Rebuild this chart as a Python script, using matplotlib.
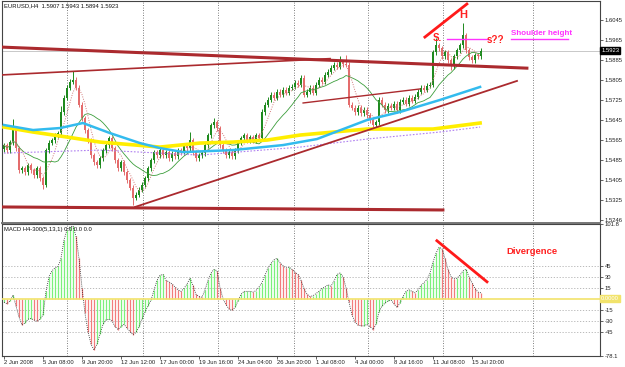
import numpy as np
import pandas as pd
import matplotlib
matplotlib.use("Agg")
import matplotlib.pyplot as plt
from matplotlib.transforms import blended_transform_factory

plt.rcParams["font.family"] = ["Liberation Sans", "DejaVu Sans"]

# EURUSD H4 closes, one per bar (2 Jun .. 16 Jul 2008)
closes = [
    1.5546, 1.5526, 1.5558, 1.5614, 1.5534, 1.5446, 1.5454, 1.5438, 1.5466, 1.5446,
    1.5426, 1.5454, 1.5414, 1.5387, 1.5526, 1.5555, 1.5566, 1.5586, 1.5594, 1.5678,
    1.5734, 1.5774, 1.5798, 1.5806, 1.5774, 1.5706, 1.5654, 1.5606, 1.5566, 1.5506,
    1.5478, 1.5466, 1.5494, 1.5526, 1.5546, 1.5574, 1.5534, 1.5486, 1.5454, 1.5478,
    1.5438, 1.5406, 1.5375, 1.5335, 1.5347, 1.5367, 1.5387, 1.5414, 1.5454, 1.5486,
    1.5518, 1.5506, 1.5526, 1.5506, 1.5518, 1.5494, 1.5514, 1.5502, 1.5526, 1.5518,
    1.5546, 1.5534, 1.5566, 1.5518, 1.5494, 1.5506, 1.5514, 1.5546, 1.5586, 1.5626,
    1.5638, 1.5614, 1.5546, 1.5526, 1.5506, 1.5518, 1.5502, 1.5526, 1.5558, 1.5574,
    1.5586, 1.5566, 1.5578, 1.5566, 1.5586, 1.5574, 1.5678, 1.5706, 1.5726, 1.5746,
    1.5734, 1.5758, 1.5746, 1.5766, 1.5754, 1.5774, 1.5778, 1.5794, 1.5786, 1.5814,
    1.5746, 1.5758, 1.5774, 1.5754, 1.5786, 1.5806, 1.5798, 1.5826, 1.5838, 1.5854,
    1.5866, 1.5858, 1.5877, 1.5869, 1.5866, 1.5706, 1.5694, 1.5678, 1.5694, 1.5674,
    1.5686, 1.5666, 1.5646, 1.5626, 1.5638, 1.5726, 1.5706, 1.5686, 1.5702, 1.5694,
    1.5710, 1.5686, 1.5718, 1.5726, 1.5710, 1.5734, 1.5722, 1.5738, 1.5758, 1.5774,
    1.5766, 1.5782, 1.5786, 1.5917, 1.5945, 1.5933, 1.5901, 1.5917, 1.5885, 1.5861,
    1.5901, 1.5925, 1.5945, 1.5985, 1.5925, 1.5897, 1.5885, 1.5905, 1.5901, 1.5923,
]
first_open = 1.5530
# bars whose wicks reach further than the usual few pips
high_spikes = {3: 1.5650, 19: 1.5700, 23: 1.5840, 62: 1.5600, 70: 1.5655,
               112: 1.5900, 114: 1.5905, 144: 1.5975, 153: 1.6033}
low_spikes = {13: 1.5370, 43: 1.5307, 124: 1.5616, 149: 1.5845}
wick = 0.0010

# MACD histogram H4-300(5,13,1), one value per bar
macd = [
    -5, -7, -3, 5, -10, -25, -36, -33, -28, -27,
    -29, -31, -28, -22, 10, 30, 38, 42, 44, 55,
    80, 94, 98, 99, 85, 55, 15, -20, -45, -62,
    -70, -62, -48, -35, -29, -28, -30, -38, -42, -38,
    -35, -40, -45, -49, -46, -38, -28, -18, -10, -2,
    12, 25, 32, 33, 25, 23, 20, 16, 12, 10,
    14, 20, 28, 18, 6, 3, 2, 12, 25, 35,
    40, 38, 15, 0, -8, -14, -16, -12, -3, 6,
    10, 10, 10, 9, 11, 16, 22, 32, 42, 48,
    53, 55, 49, 45, 42, 43, 40, 36, 33, 25,
    14, 6, 3, 4, 7, 10, 14, 16, 19, 17,
    24, 33, 35, 30, 15, -5, -22, -32, -36, -37,
    -37, -35, -38, -42, -35, -18, -10, -6, -3, -2,
    -7, -12, -6, 3, 10, 12, 10, 8, 12, 18,
    22, 26, 35, 50, 62, 70, 68, 55, 40, 30,
    27, 28, 32, 38, 40, 30, 22, 14, 9, 8,
]

# long moving averages, read at a few points (bar, price)
yellow_bar = [0, 9.7, 21, 32, 52, 65.3, 76.3, 87.7, 98.7, 121, 143, 158.7]
yellow_px = [1.5618, 1.5598, 1.5578, 1.5558, 1.5538, 1.5554, 1.5558, 1.5566,
             1.5586, 1.5610, 1.5610, 1.5634]
blue_bar = [0, 9.7, 18.7, 26.3, 35.3, 45.3, 52, 59.7, 76.3, 93, 104.3, 121, 132, 145.3, 158.7]
blue_px = [1.5626, 1.5606, 1.5614, 1.5634, 1.5594, 1.5554, 1.5534, 1.5518,
           1.5526, 1.5546, 1.5570, 1.5646, 1.5678, 1.5726, 1.5778]
violet_bar = [0, 32, 65.3, 98.7, 121, 145.3, 158.7]
violet_px = [1.5514, 1.5526, 1.5506, 1.5538, 1.5570, 1.5598, 1.5618]

# hand-drawn objects (bar, price)
top_line = ([-0.7, 174.3], [1.5937, 1.5853])
upper_line = ([-0.7, 108.7], [1.5826, 1.5891])
floor_line = ([-0.7, 146.3], [1.5299, 1.5287])
rising_line = ([43.7, 171.0], [1.5299, 1.5802])
channel_line = ([99.7, 138.7], [1.5714, 1.5770])
head_line = ([140.3, 154.3], [1.5977, 1.6109])
shoulder_line = ([147.7, 161.3], [1.5969, 1.5969])
underline = ([169.0, 188.0], [1.5969, 1.5969])
div_line = ([144.3, 161.0], [79, 23])

price_ticks = [1.6045, 1.5965, 1.5885, 1.5805, 1.5725, 1.5645, 1.5565,
               1.5485, 1.5405, 1.5325, 1.5246]
macd_ticks = [101.8, 45, 30, 15, -15, -30, -45, -78.1]
macd_tick_labels = ["101.8", "45", "30", "15", "-15", "-30", "-45", "-78.1"]
date_labels = ["2 Jun 2008", "5 Jun 08:00", "9 Jun 20:00", "12 Jun 12:00",
               "17 Jun 00:00", "19 Jun 16:00", "24 Jun 04:00", "26 Jun 20:00",
               "1 Jul 08:00", "4 Jul 00:00", "8 Jul 16:00", "11 Jul 08:00",
               "15 Jul 20:00"]
grid_bars = [21, 46.3, 71.3, 96.7, 121.3, 146.3, 176.3]
last_price = 1.5923

fig = plt.figure(figsize=(6.25, 3.67), dpi=100)
ax = fig.add_axes([2 / 625, 1 - 223 / 367, 598 / 625, 222 / 367])
axm = fig.add_axes([2 / 625, 1 - 356 / 367, 598 / 625, 132 / 367])

n = len(closes)
idx = np.arange(n)
c = np.array(closes)
o = np.r_[first_open, c[:-1]]
hi = np.maximum(o, c) + wick
lo = np.minimum(o, c) - wick
for k, v in high_spikes.items():
    hi[k] = v
for k, v in low_spikes.items():
    lo[k] = v
bull = c >= o
ccol = np.where(bull, "#1f8a1f", "#e46c6c")

# price panel
for g in grid_bars:
    ax.axvline(g, color="#555555", lw=0.6, ls=(0, (1, 2)), zorder=1)
ax.axhline(last_price, color="#c8c8c8", lw=0.7, zorder=1)
ax.vlines(idx, lo, hi, colors=ccol, lw=0.7, zorder=2)
ax.bar(idx, np.maximum(np.abs(c - o), 0.00025), bottom=np.minimum(o, c),
       width=0.75, color=ccol, lw=0, zorder=2)

s = pd.Series(c)
ax.plot(idx, s.rolling(14, min_periods=1).mean(), color="#3c9e3c", lw=0.6, zorder=3)
ax.plot(idx, s.rolling(5, min_periods=1).mean(), color="#d27a7a", lw=0.7,
        ls=(0, (1, 1.5)), zorder=3)
ax.plot(yellow_bar, yellow_px, color="#ffee00", lw=2.6, zorder=3)
ax.plot(blue_bar, blue_px, color="#33bbee", lw=1.8, zorder=3)
ax.plot(violet_bar, violet_px, color="#b080f0", lw=0.8, ls=(0, (1.5, 1.5)), zorder=3)

ax.plot(*top_line, color="#ab2a2e", lw=2.2, zorder=4)
ax.plot(*upper_line, color="#ab2a2e", lw=1.2, zorder=4)
ax.plot(*floor_line, color="#ab2a2e", lw=2.2, zorder=4)
ax.plot(*rising_line, color="#ab2a2e", lw=1.3, zorder=4)
ax.plot(*channel_line, color="#ab2a2e", lw=1.0, zorder=4)
ax.plot(*head_line, color="#ff1a1a", lw=2.0, zorder=4)
ax.plot(*shoulder_line, color="#ff33ff", lw=1.0, zorder=4)
ax.plot(*underline, color="#ff33ff", lw=1.0, zorder=4)

ax.text(153, 1.6065, "H", color="#ff2020", fontsize=8, fontweight="bold",
        ha="center", va="center", zorder=5)
ax.text(144.3, 1.5975, "S.", color="#ff2020", fontsize=7, fontweight="bold",
        ha="center", va="center", zorder=5)
ax.text(160.8, 1.5965, "s??", color="#ff2020", fontsize=7, fontweight="bold",
        ha="left", va="center", zorder=5)
ax.text(169.0, 1.5993, "Shoulder height", color="#ff33ff", fontsize=5.8,
        fontweight="bold", ha="left", va="center", zorder=5)
ax.text(0.003, 0.977, "EURUSD,H4  1.5907 1.5943 1.5894 1.5923", transform=ax.transAxes,
        fontsize=4.2, ha="left", va="center", color="#111111")

ax.set_xlim(-0.67, 198.67)
ax.set_ylim(1.5235, 1.6121)
ax.yaxis.tick_right()
ax.set_yticks(price_ticks, [f"{t:.4f}" for t in price_ticks])
ax.tick_params(axis="y", length=2, width=0.5, pad=1.5, labelsize=4.2, colors="#222222")
ax.set_xticks([])
tr = blended_transform_factory(ax.transAxes, ax.transData)
ax.text(1.002, last_price, "1.5923", transform=tr, fontsize=4.2, color="white",
        ha="left", va="center",
        bbox=dict(boxstyle="square,pad=0.15", fc="black", ec="black"))

# MACD panel
v = np.array(macd, dtype=float)
dv = np.diff(v, prepend=v[0])
mcol = np.where(dv >= 0, "#7cf07c", "#f27c7c")
for g in grid_bars:
    axm.axvline(g, color="#555555", lw=0.6, ls=(0, (1, 2)), zorder=1)
for lvl in [45, 30, 15, -15, -30, -45]:
    axm.axhline(lvl, color="#b0b0b0", lw=0.6, ls=(0, (1.5, 2)), zorder=1)
axm.vlines(idx, 0, v, colors=mcol, lw=0.9, zorder=2)
axm.plot(idx, v, color="#222222", lw=0.6, ls=(0, (1, 1.5)), zorder=3)
axm.axhline(0, color="#f2e36b", lw=1.2, zorder=3)
axm.plot(*div_line, color="#ff1a1a", lw=2.0, zorder=4)
axm.text(167.3, 65, "Divergence", color="#ff2020", fontsize=6.8, fontweight="bold",
         ha="left", va="center", zorder=5)
axm.text(0.003, 0.955, "MACD H4-300(5,13,1) 0.0 0.0 0.0", transform=axm.transAxes,
         fontsize=4.2, ha="left", va="center", color="#111111")

axm.set_xlim(-0.67, 198.67)
axm.set_ylim(-78.1, 101.8)
axm.yaxis.tick_right()
axm.set_yticks(macd_ticks, macd_tick_labels)
axm.tick_params(axis="y", length=2, width=0.5, pad=1.5, labelsize=4.2, colors="#222222")
axm.set_xticks([13 * k for k in range(len(date_labels))], date_labels)
axm.tick_params(axis="x", length=2, width=0.5, pad=1, labelsize=4.2, colors="#222222")
for lbl in axm.get_xticklabels():
    lbl.set_ha("left")
trm = blended_transform_factory(axm.transAxes, axm.transData)
axm.text(1.002, 0, "0.0000", transform=trm, fontsize=4.2, color="white",
         ha="left", va="center",
         bbox=dict(boxstyle="square,pad=0.15", fc="#f2e36b", ec="#f2e36b"))

for a in (ax, axm):
    for sp in a.spines.values():
        sp.set_color("#444444")
        sp.set_linewidth(0.8)
ax.spines["bottom"].set_linewidth(1.4)
ax.spines["bottom"].set_color("#777777")

fig.savefig("out.png", dpi=100)
